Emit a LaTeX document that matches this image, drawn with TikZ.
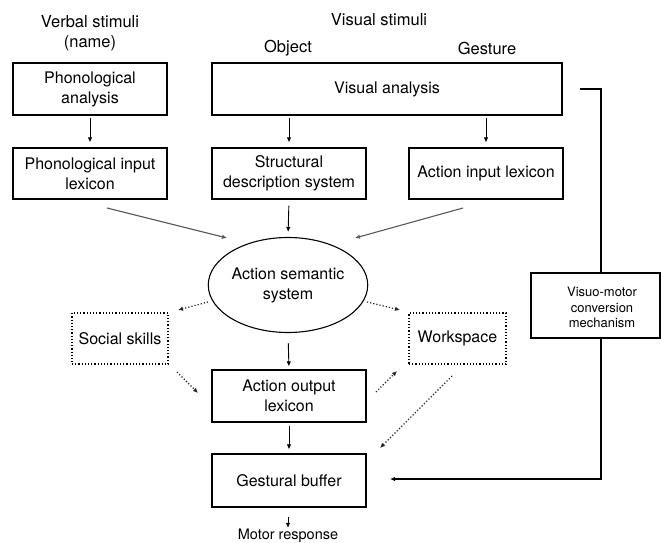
\documentclass[tikz,border=0pt]{standalone}
\usepackage{fontspec}
\setmainfont{TeX Gyre Heros}
\usetikzlibrary{arrows.meta,shapes.geometric}
\begin{document}
\begin{tikzpicture}[x=1pt,y=-1pt,
  every node/.style={font=\fontsize{16}{20}\selectfont, align=center, inner sep=0pt},
  box/.style={draw, line width=1.1pt, rectangle},
  dbox/.style={draw, line width=1.2pt, dotted, rectangle},
  lbl/.style={font=\fontsize{16.5}{20}\selectfont},
  arr/.style={line width=0.9pt, -{Latex[length=5pt,width=4.5pt]}},
  garr/.style={line width=1.1pt, draw=black!65, -{Latex[length=5pt,width=4.5pt]}},
  darr/.style={line width=1.2pt, dotted, draw=black!85, -{Latex[length=5pt,width=4.5pt]}},
  ln/.style={line width=1.1pt}]
\useasboundingbox (0,0) rectangle (661,543);
% headings
\node[lbl] (verbal) at (90,33) {Verbal stimuli\\(name)};
\node[lbl] (visual) at (379,20) {Visual stimuli};
\node[lbl] (object) at (288,48) {Object};
\node[lbl] (gesture) at (487,48) {Gesture};
% boxes
\node[box, minimum width=154, minimum height=52] (phon) at (90,89) {Phonological\\analysis};
\node[box, minimum width=350, minimum height=52] (vis) at (387,89) {Visual analysis};
\node[box, minimum width=154, minimum height=51] (pil) at (90,173.5) {Phonological input\\lexicon};
\node[box, minimum width=154, minimum height=51] (sds) at (289,173.5) {Structural\\description system};
\node[box, minimum width=154, minimum height=51] (ail) at (486,173.5) {Action input lexicon};
\node[ellipse, draw, line width=1.1pt, minimum width=156, minimum height=95] (ass) at (288,285) {Action semantic\\system};
\node[dbox, minimum width=96, minimum height=51] (social) at (120,338.5) {Social skills};
\node[dbox, minimum width=97, minimum height=51] (work) at (457.5,338.5) {Workspace};
\node[box, minimum width=154, minimum height=52] (aol) at (289,396) {Action output\\lexicon};
\node[box, minimum width=154, minimum height=53] (gb) at (289,480.5) {Gestural buffer};
\node[font=\fontsize{14.5}{16}\selectfont] (motor) at (288,536) {Motor response};
\node[box, minimum width=129, minimum height=65] (vm) at (595.5,305.5) {};
\node[font=\fontsize{13}{15.5}\selectfont] (vmtxt) at (602,307.5) {Visuo-motor\\conversion\\mechanism};
% vertical arrows
\draw[arr, shorten <=2pt, shorten >=5pt] (phon.south) -- (pil.north);
\draw[arr, shorten <=2pt, shorten >=5pt] (vis.south -| sds.north) -- (sds.north);
\draw[arr, shorten <=2pt, shorten >=5pt] (vis.south -| ail.north) -- (ail.north);
\draw[arr, shorten <=6pt, shorten >=5pt] (sds.south) -- (ass.north);
\draw[arr, shorten <=10pt, shorten >=3pt] (ass.south) -- (aol.north);
\draw[arr, shorten <=3pt, shorten >=4pt] (aol.south) -- (gb.north);
\coordinate (m1) at (288,517);
\draw[arr] (m1) -- ([yshift=1pt]motor.north);
% slanted arrows to ellipse
\coordinate (a1) at (107,208); \coordinate (a2) at (227,238);
\coordinate (b1) at (463,208); \coordinate (b2) at (355,238);
\draw[garr] (a1) -- (a2);
\draw[garr] (b1) -- (b2);
% dotted arrows
\coordinate (d1) at (208,302); \coordinate (d2) at (178,310);
\coordinate (d3) at (177,372); \coordinate (d4) at (198,393);
\coordinate (d5) at (367,302); \coordinate (d6) at (400,310);
\coordinate (d7) at (376,392); \coordinate (d8) at (397,371);
\coordinate (d9) at (452,376); \coordinate (d10) at (380,448);
\draw[darr] (d1) -- (d2);
\draw[darr] (d3) -- (d4);
\draw[darr] (d5) -- (d6);
\draw[darr] (d7) -- (d8);
\draw[darr] (d9) -- (d10);
% visuo-motor route
\coordinate (r1) at (580,89); \coordinate (r2) at (601,89);
\coordinate (r3) at (601,479); \coordinate (r4) at (390,479);
\draw[ln] (r1) -- (r2) -- (r2 |- vm.north);
\draw[ln, -{Latex[length=5pt,width=4.5pt]}] (r2 |- vm.south) -- (r3) -- (r4);
\end{tikzpicture}
\end{document}
